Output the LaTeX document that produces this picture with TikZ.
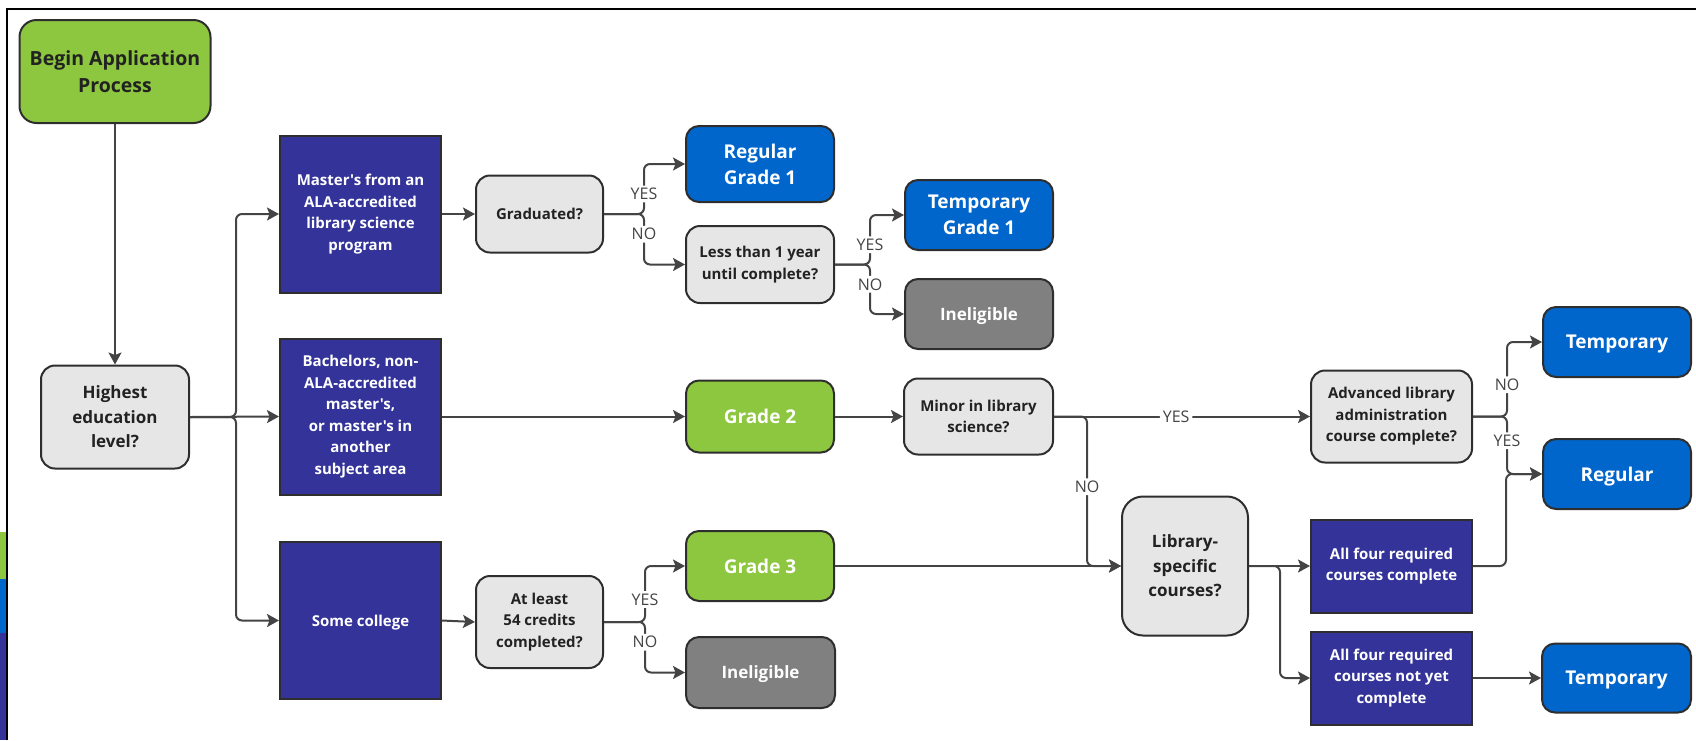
\documentclass[tikz,border=0pt]{standalone}
\usepackage{fontspec}
\setmainfont{Open Sans}[Ligatures=TeXOff]
\usetikzlibrary{arrows.meta}

\definecolor{startgreen}{HTML}{8DC63F}
\definecolor{routeblue}{HTML}{333399}
\definecolor{gradeblue}{HTML}{0066CC}
\definecolor{stopgray}{HTML}{808080}
\definecolor{asklight}{HTML}{E6E6E6}
\definecolor{boxline}{HTML}{2E2E2E}
\definecolor{flowline}{HTML}{444444}
\definecolor{textdark}{HTML}{222222}

\newcommand\txtS{\fontsize{15}{21.5}\selectfont}
\newcommand\txtM{\fontsize{17}{24.5}\selectfont}
\newcommand\txtL{\fontsize{19}{26}\selectfont}

\begin{document}
\begin{tikzpicture}[x=1pt,y=-1pt,
      every node/.style={align=center,inner sep=0pt},
      box/.style={draw=boxline,line width=2pt,font=\bfseries},
      oneline/.style={text depth=0pt},
      startnode/.style={box,fill=startgreen,text=textdark,rounded corners=17pt,
            minimum width=191pt,minimum height=103pt,
            font=\bfseries\fontsize{19.5}{27}\selectfont},
      asknode/.style={box,fill=asklight,text=textdark,rounded corners=14pt},
      routenode/.style={box,fill=routeblue,text=white,
            minimum width=161pt,font=\bfseries\txtS},
      greennode/.style={box,fill=startgreen,text=white,rounded corners=13pt,
            minimum width=148pt,minimum height=71pt,font=\bfseries\txtL},
      bluenode/.style={box,fill=gradeblue,text=white,rounded corners=13pt,
            minimum width=148pt,minimum height=70pt,font=\bfseries\txtL},
      stopnode/.style={box,fill=stopgray,text=white,rounded corners=13pt,
            minimum width=148pt,minimum height=70pt,font=\bfseries\txtM},
      flow/.style={draw=flowline,line width=2pt,rounded corners=6pt,
            -{Stealth[length=12pt,width=13pt,inset=2.5pt]}},
      answer/.style={fill=white,text=flowline,inner xsep=3pt,inner ysep=2.5pt,
            font=\fontsize{16}{16}\selectfont}]

      \useasboundingbox (0,0) rectangle (1696,740);

      \fill[startgreen] (0,532) rectangle (6,579);
      \fill[gradeblue] (0,579) rectangle (6,633);
      \fill[routeblue] (0,633) rectangle (6,740);
      \draw[black,line width=1.2pt] (7,740) -- (7,9) -- (1696,9);

      \node[startnode] (begin) at (115,71.5) {Begin Application\\Process};
      \node[asknode,minimum width=148pt,minimum height=103pt,font=\bfseries\txtM]
            (high) at (115,417) {Highest\\education\\level?};

      \node[routenode,minimum height=157pt] (mast) at (360.5,214)
            {Master's from an\\ALA-accredited\\library science\\program};
      \node[routenode,minimum height=156pt] (bach) at (360.5,416.5)
            {Bachelors, non-\\ALA-accredited\\master's,\\or master's in\\another\\subject area};
      \node[routenode,oneline,minimum height=157pt] (some) at (360.5,620.5) {Some college};

      \node[asknode,oneline,minimum width=127pt,minimum height=77pt,font=\bfseries\txtS]
            (grad) at (539.5,214) {Graduated?};
      \node[bluenode,minimum height=76pt] (reg1) at (760,164) {Regular\\Grade 1};
      \node[asknode,minimum width=148pt,minimum height=77pt,font=\bfseries\txtS]
            (less) at (760,264.5) {Less than 1 year\\until complete?};
      \node[bluenode] (temp1) at (979,215) {Temporary\\Grade 1};
      \node[stopnode,oneline] (inel1) at (979,314) {Ineligible};

      \node[greennode,oneline,minimum height=72pt] (g2) at (760,416.5) {Grade 2};
      \node[asknode,minimum width=149pt,minimum height=76pt,font=\bfseries\txtS]
            (minor) at (978.5,416.5) {Minor in library\\science?};
      \node[asknode,minimum width=161pt,minimum height=92pt,font=\bfseries\txtS]
            (adv) at (1391.5,416.5) {Advanced library\\administration\\course complete?};
      \node[bluenode,oneline] (tempR) at (1617,342) {Temporary};
      \node[bluenode,oneline] (regR) at (1617,474) {Regular};

      \node[asknode,rounded corners=21pt,minimum width=126pt,minimum height=139pt,
            font=\bfseries\txtM] (lib) at (1185,566) {Library-\\specific\\courses?};
      \node[routenode,minimum height=93pt] (all1) at (1391.5,566)
            {All four required\\courses complete};
      \node[routenode,minimum height=93pt] (all2) at (1391.5,678)
            {All four required\\courses not yet\\complete};
      \node[bluenode,oneline,minimum width=149pt,minimum height=69pt] (tempB)
            at (1616.5,678) {Temporary};

      \node[greennode,oneline,minimum height=70pt] (g3) at (760,566) {Grade 3};
      \node[asknode,minimum width=127pt,minimum height=92pt,font=\bfseries\txtS]
            (least) at (539.5,622) {At least\\54 credits\\completed?};
      \node[stopnode,oneline,minimum width=149pt,minimum height=71pt] (inel2)
            at (760.5,672.5) {Ineligible};

      \draw[flow] (begin.south) -- (high.north);
      \draw[flow] (high.east) -- ++(46,0) |- (mast.west);
      \draw[flow] (high.east) -- (bach.west);
      \draw[flow] (high.east) -- ++(46,0) |- (some.west);

      \draw[flow] (mast.east) -- (grad.west);
      \draw[flow] (grad.east) -- ++(40,0)
            |- node[answer,pos=0.2]{YES} (reg1.west);
      \draw[flow] (grad.east) -- ++(40,0)
            |- node[answer,pos=0.2]{NO} (less.west);
      \draw[flow] (less.east) -- ++(35,0)
            |- node[answer,pos=0.2]{YES} (temp1.west);
      \draw[flow] (less.east) -- ++(35,0)
            |- node[answer,pos=0.2]{NO} (inel1.west);

      \draw[flow] (bach.east) -- (g2.west);
      \draw[flow] (g2.east) -- (minor.west);
      \draw[flow] (minor.east) -- node[answer,pos=0.477]{YES} (adv.west);
      \draw[flow] (minor.east) -- ++(33,0)
            |- node[answer,pos=0.235]{NO} (lib.west);
      \draw[flow] (adv.east) -- ++(34,0)
            |- node[answer,pos=0.213]{NO} (tempR.west);
      \draw[flow] (adv.east) -- ++(34,0)
            |- node[answer,pos=0.21]{YES} (regR.west);

      \draw[flow] (some.east) -- (least.west);
      \draw[flow] (least.east) -- ++(41,0)
            |- node[answer,pos=0.2]{YES} (g3.west);
      \draw[flow] (least.east) -- ++(41,0)
            |- node[answer,pos=0.2]{NO} (inel2.west);
      \draw[flow] (g3.east) -- (lib.west);

      \draw[flow] (lib.east) -- (all1.west);
      \draw[flow] (lib.east) -- ++(31,0) |- (all2.west);
      \draw[flow] (all1.east) -- ++(33,0) |- (regR.west);
      \draw[flow] (all2.east) -- (tempB.west);
\end{tikzpicture}
\end{document}
